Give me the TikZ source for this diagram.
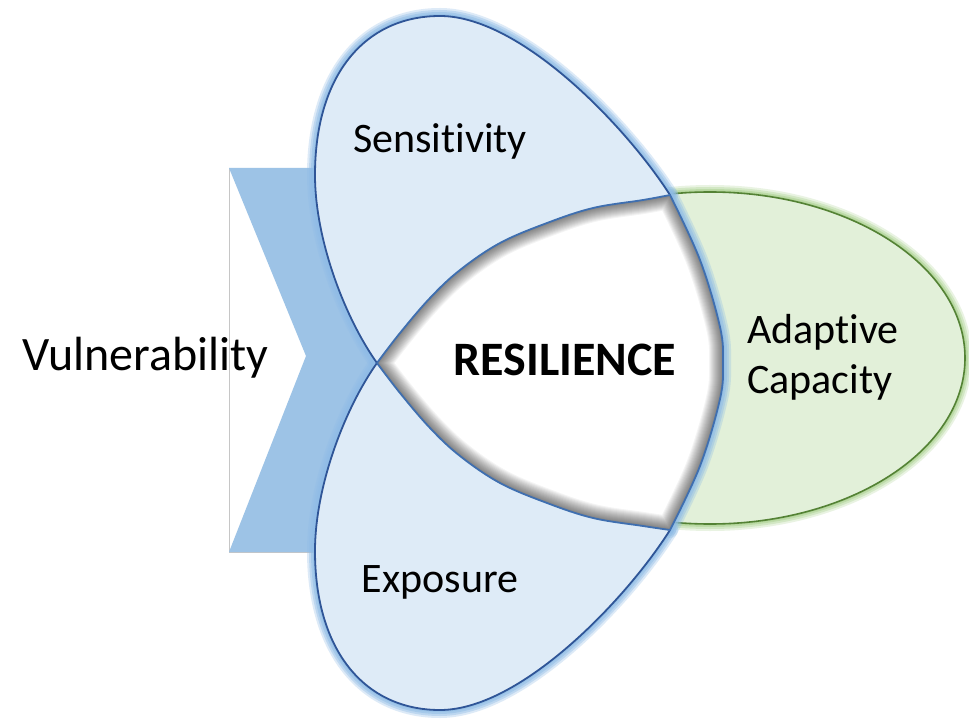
\documentclass[tikz,border=0pt]{standalone}
\usepackage{fontspec}
\setmainfont{Carlito}[Ligatures=NoCommon]
\begin{document}
\definecolor{petalfill}{HTML}{DEEBF7}
\definecolor{petalline}{HTML}{2F5597}
\definecolor{petalglow}{HTML}{8FBCE6}
\definecolor{chevfill}{HTML}{9DC3E6}
\definecolor{greenfill}{HTML}{E2F0D9}
\definecolor{greenline}{HTML}{548235}
\definecolor{greenglow}{HTML}{A9D18E}
\definecolor{lensline}{HTML}{3F6FB0}
\begin{tikzpicture}[x=1pt,y=-1pt,
  label42/.style={inner sep=0pt, font=\fontsize{42}{50}\selectfont},
  label48/.style={inner sep=0pt, font=\fontsize{48}{58}\selectfont},
  bluehalo/.style={petalglow, line join=round, line cap=round},
  greenhalo/.style={greenglow, line join=round}]
\useasboundingbox (0,0) rectangle (969,719);
\fill[white] (0,0) rectangle (969,719);

% outlines of the two petals and the central region
\def\senscurve{(377,363) .. controls (345,318) and (315,240) .. (315,175)
  .. controls (315,75) and (365,16) .. (440,16)
  .. controls (520,16) and (625,125) .. (670,195)}
\def\expocurve{(670,530) .. controls (625,601) and (520,710) .. (440,710)
  .. controls (365,710) and (315,651) .. (315,551)
  .. controls (315,486) and (345,408) .. (377,363)}
\def\lensright{plot[smooth,tension=0.6] coordinates {(670,195)(700,260)(720,327)(723,363)(720,399)(700,466)(670,530)}}
\def\lenspath{plot[smooth,tension=0.6] coordinates {(377,363)(400,333)(430,298)(460,270)(500,243)(547,223)(593,208)(643,200)(670,195)}
  -- plot[smooth,tension=0.6] coordinates {(670,195)(700,260)(720,327)(723,363)(720,399)(700,466)(670,530)}
  -- plot[smooth,tension=0.6] coordinates {(670,530)(643,526)(593,518)(547,503)(500,483)(460,456)(430,428)(400,393)(377,363)} -- cycle}

% chevron behind the petals, with its thin frame
\draw[gray!45, line width=0.9] (229,168) rectangle (380,552);
\fill[chevfill] (229,168) -- (340,168) -- (418,360) -- (340,552) -- (229,552) -- (306,356) -- cycle;

% adaptive capacity ellipse
\foreach \w/\o in {14/0.25, 10/0.35, 6/0.5, 3/0.6}
  \draw[greenhalo, line width=\w, opacity=\o] (710,358) ellipse [x radius=255, y radius=166];
\fill[greenfill] (710,358) ellipse [x radius=255, y radius=166];
\draw[greenline, line width=1.6] (710,358) ellipse [x radius=255, y radius=166];

% halos of the blue petals
\foreach \w/\o in {16/0.3, 12/0.4, 8/0.5, 4/0.6}{
  \draw[bluehalo, line width=\w, opacity=\o] \senscurve;
  \draw[bluehalo, line width=\w, opacity=\o] \expocurve;
  \draw[bluehalo, line width=\w, opacity=\o] \lensright;
}

% petals
\fill[petalfill] \senscurve -- (723,363) -- cycle;
\fill[petalfill] \expocurve -- (723,363) -- cycle;
\draw[petalline, line width=1.8, line join=round] \senscurve;
\draw[petalline, line width=1.8, line join=round] \expocurve;

% central resilience region with inner shadow
\fill[white] \lenspath;
\begin{scope}
  \clip \lenspath;
  \foreach \w in {2,4,...,28}
    \draw[black, opacity=0.045, line width=\w, line join=round] \lenspath;
\end{scope}
\draw[lensline, line width=1.8, line join=round] \lenspath;

% labels
\node[label48, anchor=base west] (vul) at (22,370) {Vulnerability};
\node[label42, anchor=base] (sens) at (440,153) {Sensitivity};
\node[label42, anchor=base] (expo) at (440,592) {Exposure};
\node[label42, anchor=base west] (adapt) at (747,343) {Adaptive};
\node[label42, anchor=base west] (capa) at (747,393) {Capacity};
\node[label48, anchor=base, font=\fontsize{48}{58}\selectfont\bfseries] (res) at (565,375) {RESILIENCE};
\end{tikzpicture}
\end{document}
